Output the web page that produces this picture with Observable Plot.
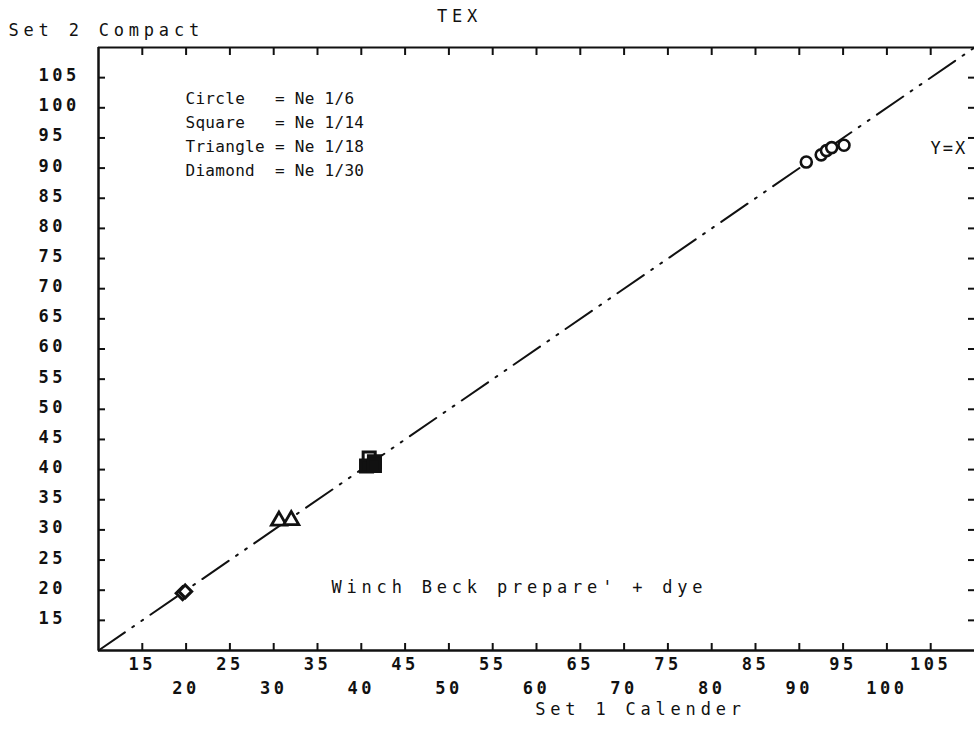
<!DOCTYPE html>
<html>
<head>
<meta charset="utf-8">
<script src="https://cdn.jsdelivr.net/npm/d3@7"></script>
<script src="https://cdn.jsdelivr.net/npm/@observablehq/plot@0.6"></script>
<style>
  body { margin: 0; background: #fff; }
  svg text { white-space: pre; }
</style>
</head>
<body>
<div id="chart"></div>
<script>
// ---- data ----
const circleX = [90.8, 92.5, 93.1, 93.7, 95.1];
const circleY = [91.0, 92.2, 92.9, 93.4, 93.8];
const squareX = [40.9, 40.6, 41.5, 41.5];
const squareY = [41.9, 40.6, 41.3, 40.7];
const triangleX = [30.6, 32.0];
const triangleY = [31.5, 31.6];
const diamondX = [19.6, 19.9];
const diamondY = [19.5, 19.8];

const identityLine = [10, 110];

const xTicksOdd = [15, 25, 35, 45, 55, 65, 75, 85, 95, 105];
const xTicksEven = [20, 30, 40, 50, 60, 70, 80, 90, 100];
const xTicksAll = [15, 20, 25, 30, 35, 40, 45, 50, 55, 60, 65, 70, 75, 80, 85, 90, 95, 100, 105];
const yTicks = [15, 20, 25, 30, 35, 40, 45, 50, 55, 60, 65, 70, 75, 80, 85, 90, 95, 100, 105];

const legendLines = [
  "Circle   = Ne 1/6",
  "Square   = Ne 1/14",
  "Triangle = Ne 1/18",
  "Diamond  = Ne 1/30"
];
const titleText = "TEX";
const yTitle = "Set 2 Compact";
const xTitle = "Set 1 Calender";
const noteText = "Winch Beck prepare' + dye";
const lineLabel = "Y=X";

// ---- tables built from the arrays ----
const zip = (xs, ys) => xs.map((x, i) => ({x, y: ys[i]}));
const circles = zip(circleX, circleY);
const squares = zip(squareX, squareY);
const triangles = zip(triangleX, triangleY);
const diamonds = zip(diamondX, diamondY);
const diag = identityLine.map(v => ({x: v, y: v}));

const ink = "#111";
const font = "DejaVu Sans Mono";

const chart = Plot.plot({
  width: 974,
  height: 731,
  marginLeft: 98,
  marginRight: 0,
  marginTop: 47,
  marginBottom: 81,
  style: {fontFamily: font, fontSize: "17px", letterSpacing: "4.8px", color: ink, background: "#fff"},
  x: {domain: [10, 110], label: null, axis: null},
  y: {domain: [10, 110], label: null, axis: null},
  marks: [
    // frame
    Plot.ruleX([10], {stroke: ink, strokeWidth: 2.5}),
    Plot.ruleY([10], {stroke: ink, strokeWidth: 2.5}),
    Plot.ruleY([110], {stroke: ink, strokeWidth: 2}),
    // inward ticks
    Plot.axisX(xTicksAll, {anchor: "bottom", tickSize: -7, strokeWidth: 2, stroke: ink, tickFormat: () => "", label: null}),
    Plot.axisX(xTicksAll, {anchor: "top", tickSize: -7, strokeWidth: 2, stroke: ink, tickFormat: () => "", label: null}),
    Plot.axisY(yTicks, {anchor: "left", tickSize: -7, strokeWidth: 2, stroke: ink, tickFormat: () => "", label: null}),
    Plot.axisY(yTicks, {anchor: "right", tickSize: -7, strokeWidth: 2, stroke: ink, tickFormat: () => "", label: null}),
    // tick labels
    Plot.axisX(xTicksOdd, {anchor: "bottom", tickSize: 0, tickPadding: 7, fill: ink, fontWeight: "bold", label: null}),
    Plot.axisX(xTicksEven, {anchor: "bottom", tickSize: 0, tickPadding: 31, fill: ink, fontWeight: "bold", label: null}),
    Plot.axisY(yTicks, {anchor: "left", tickSize: 0, tickPadding: 60, textAnchor: "start", dy: -2, fill: ink, fontWeight: "bold", label: null}),
    // Y = X reference line
    Plot.line(diag, {x: "x", y: "y", stroke: ink, strokeWidth: 2, strokeDasharray: "32,9,2,9,2,9"}),
    // markers (the uppermost square is open, the rest of the stack reads as solid)
    Plot.dot(squares.slice(0, 1), {x: "x", y: "y", symbol: "square", r: 6.8, stroke: ink, strokeWidth: 3, fill: "#fff"}),
    Plot.dot(squares.slice(1), {x: "x", y: "y", symbol: "square", r: 6.8, stroke: ink, strokeWidth: 3, fill: ink}),
    Plot.dot(triangles, {x: "x", y: "y", symbol: "triangle", r: 5.6, stroke: ink, strokeWidth: 2.8, fill: "#fff"}),
    Plot.dot(diamonds, {x: "x", y: "y", symbol: "diamond2", r: 5.8, stroke: ink, strokeWidth: 3, fill: "#fff"}),
    Plot.dot(circles, {x: "x", y: "y", symbol: "circle", r: 5.5, stroke: ink, strokeWidth: 2.6, fill: "#fff"}),
    // texts
    Plot.text([titleText], {frameAnchor: "top-left", dx: 361, dy: -31, textAnchor: "middle", lineAnchor: "middle", fill: ink}),
    Plot.text([yTitle], {frameAnchor: "top-left", dx: -90, dy: -17, textAnchor: "start", lineAnchor: "middle", fill: ink}),
    Plot.text([xTitle], {frameAnchor: "bottom-left", dx: 542, dy: 59, textAnchor: "middle", lineAnchor: "middle", fill: ink}),
    Plot.text([legendLines.join("\n")], {frameAnchor: "top-left", dx: 87, dy: 39, textAnchor: "start", lineAnchor: "top", lineHeight: 1.5, fontSize: 16, fill: ink}),
    Plot.text([noteText], {frameAnchor: "bottom-left", dx: 233, dy: -63, textAnchor: "start", lineAnchor: "middle", fill: ink}),
    Plot.text([lineLabel], {frameAnchor: "top-left", dx: 832, dy: 101, textAnchor: "start", lineAnchor: "middle", fill: ink})
  ]
});

// per-text letter spacing: the legend block is set tight, like the reference
d3.select(chart).selectAll("text").each(function() {
  const t = this.textContent;
  if (t.includes("Circle")) this.style.letterSpacing = "0.3px";
  else if (t === lineLabel) this.style.letterSpacing = "2px";
});
d3.select(chart).selectAll("g[aria-label$='tick label'] text, g[aria-label$='tick-label'] text")
  .style("letter-spacing", "3.5px");

document.getElementById("chart").appendChild(chart);
</script>
</body>
</html>
